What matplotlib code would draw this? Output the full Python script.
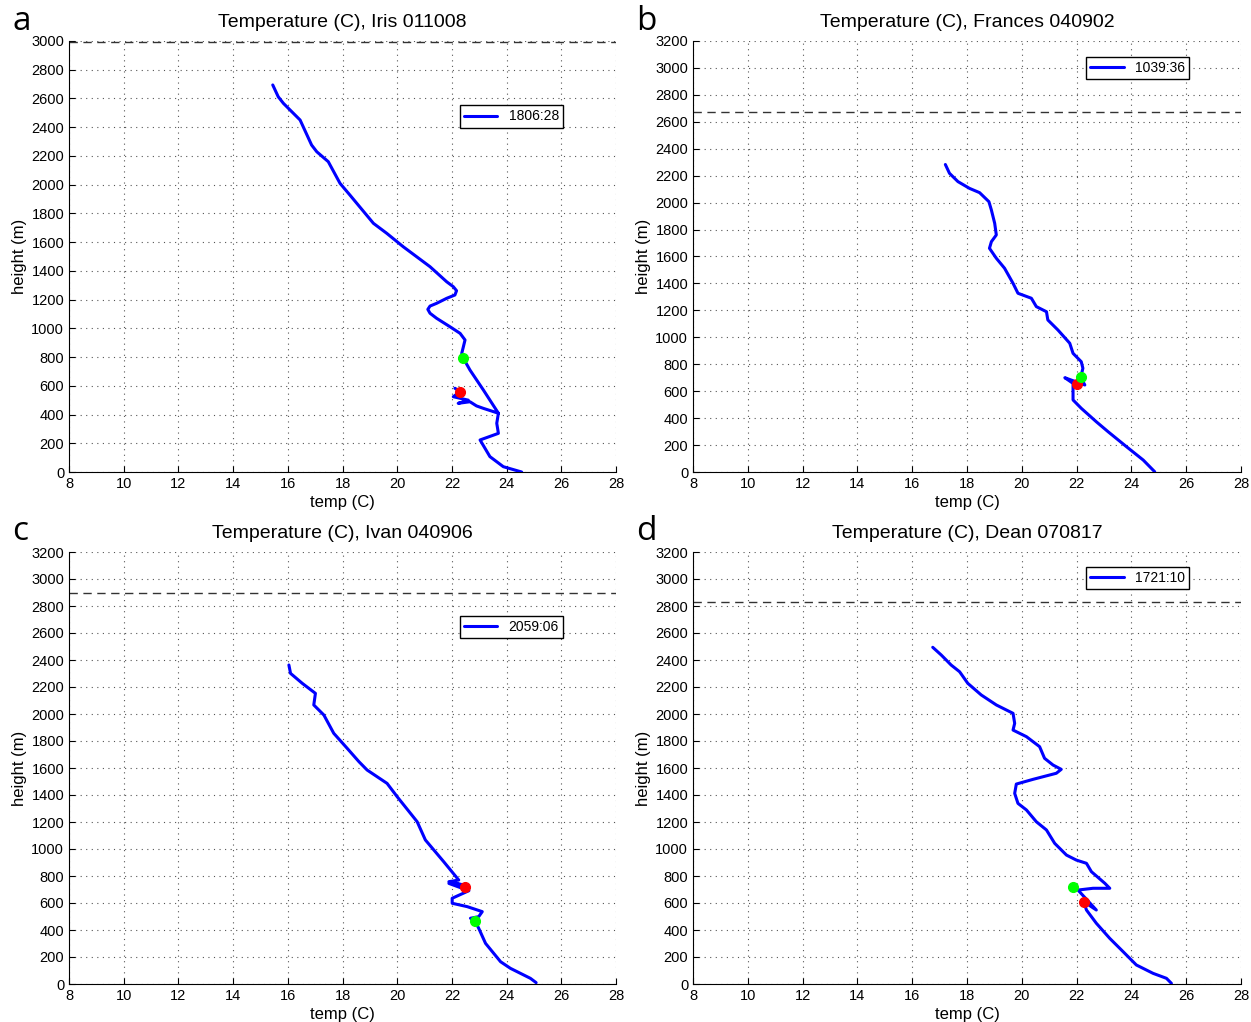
import numpy as np
import matplotlib
matplotlib.use("Agg")
import matplotlib.pyplot as plt

plt.rcParams["font.family"] = ["Liberation Sans", "DejaVu Sans"]

nan = np.nan

# panel a: Iris 011008
T_a = [24.55, 23.88, 23.39, 23.03, 23.70, 23.64, 23.70, 23.15, 22.90, 22.66, 22.23, 22.60,
       22.05, 22.30, 22.11, nan, 23.70, 23.15, 22.66, 22.42, 22.36, 22.42, 22.48, 22.30,
       21.93, 21.44, 21.20, 21.12, 21.20, 21.44, 21.81, 22.11, 22.17, 22.05, 21.81, 21.20,
       20.22, 19.62, 19.13, 18.27, 17.91, 17.48, 17.06, 16.87, 16.45, 15.84, 15.65, 15.45]
H_a = [0, 37, 107, 223, 269, 339, 409, 443, 460, 489, 478, 500,
       524, 559, 583, nan, 409, 571, 710, 791, 826, 872, 919, 965,
       1011, 1070, 1105, 1132, 1155, 1174, 1209, 1232, 1262, 1290, 1324, 1429,
       1568, 1661, 1731, 1928, 2009, 2160, 2229, 2276, 2450, 2566, 2612, 2694]
red_a = (22.30, 559)
green_a = (22.42, 791)

# panel b: Frances 040902
T_b = [24.85, 24.43, 23.82, 23.15, 22.72, 22.17, 21.87, 21.87, 21.57, 22.30, 22.15, 22.23,
       22.17, 21.87, 21.75, 21.32, 20.95, 20.90, 20.53, 20.35, 19.86, 19.68, 19.37, 19.07,
       18.82, 18.89, 19.07, 19.01, 18.89, 18.80, 18.46, 18.09, 17.67, 17.36, 17.21]
H_b = [2, 89, 188, 299, 373, 473, 535, 658, 700, 646, 703, 770,
       819, 881, 956, 1054, 1129, 1190, 1228, 1290, 1327, 1401, 1513, 1587,
       1661, 1710, 1760, 1847, 1945, 2007, 2074, 2106, 2156, 2218, 2283]
red_b = (22.03, 651)
green_b = (22.15, 703)

# panel c: Ivan 040906
T_c = [25.08, 24.87, 24.14, 23.78, 23.23, 22.98, 22.84, 22.68, 22.98, 23.11, 22.56, 22.01,
       22.01, 22.62, 21.89, 22.40, 21.89, 22.25, 21.70, 21.03, 20.73, 20.00, 19.63, 18.90,
       18.60, 18.17, 17.68, 17.32, 16.95, 17.01, 16.53, 16.10, 16.04]
H_c = [10, 42, 116, 165, 301, 413, 467, 487, 499, 536, 573, 598,
       635, 691, 745, 735, 758, 770, 906, 1067, 1202, 1387, 1486, 1585,
       1647, 1746, 1857, 1992, 2067, 2153, 2227, 2301, 2363]
red_c = (22.48, 716)
green_c = (22.84, 467)

# panel d: Dean 070817
T_d = [25.46, 25.28, 24.79, 24.18, 23.70, 23.21, 22.72, 22.36, 22.26, 22.72, 22.05, 22.60,
       23.21, 23.03, 22.54, 22.36, 21.99, 21.63, 21.20, 20.90, 20.53, 20.17, 19.86, 19.74,
       19.80, 20.41, 21.26, 21.44, 21.14, 20.83, 20.65, 20.17, 19.68, 19.74, 19.68, 19.07,
       18.52, 18.03, 17.73, 17.42, 17.06, 16.75]
H_d = [5, 42, 79, 141, 239, 338, 450, 548, 610, 548, 696, 709,
       709, 746, 832, 894, 918, 955, 1042, 1141, 1202, 1289, 1338, 1412,
       1481, 1516, 1561, 1590, 1622, 1672, 1758, 1832, 1881, 1931, 2005, 2067,
       2141, 2227, 2313, 2363, 2437, 2494]
red_d = (22.26, 610)
green_d = (21.88, 721)

letters = ["a", "b", "c", "d"]
titles = ["Temperature (C), Iris 011008", "Temperature (C), Frances 040902",
          "Temperature (C), Ivan 040906", "Temperature (C), Dean 070817"]
times = ["1806:28", "1039:36", "2059:06", "1721:10"]
tops = [2990, 2675, 2896, 2830]
ymaxes = [3000, 3200, 3200, 3200]
temps = [T_a, T_b, T_c, T_d]
heights = [H_a, H_b, H_c, H_d]
reds = [red_a, red_b, red_c, red_d]
greens = [green_a, green_b, green_c, green_d]

W, H = 1251, 1022
fig = plt.figure(figsize=(W / 100, H / 100), dpi=100)

# axes boxes in pixels: left, top, right, bottom
boxes = [(69, 41, 616, 472), (693, 41, 1241, 472),
         (69, 552, 616, 984), (693, 552, 1241, 984)]
leg_anchor = [(0.903, 0.851), (0.905, 0.963), (0.903, 0.852), (0.905, 0.965)]

for i in range(4):
    l, t, r, b = boxes[i]
    ax = fig.add_axes([l / W, 1 - b / H, (r - l) / W, (b - t) / H])
    ax.plot(temps[i], heights[i], color="#0000ff", lw=2.2, label=times[i],
            solid_capstyle="round", solid_joinstyle="round", zorder=3)
    ax.plot(*reds[i], "o", color="#ff0000", ms=7, zorder=4)
    ax.plot(*greens[i], "o", color="#00ff00", ms=7, zorder=4)
    ax.axhline(tops[i], color="#333333", lw=1, ls=(0, (6, 4)), zorder=2)

    ax.set_xlim(8, 28)
    ax.set_ylim(0, ymaxes[i])
    ax.set_xticks(np.arange(8, 29, 2))
    ax.set_yticks(np.arange(0, ymaxes[i] + 1, 200))
    ax.grid(True, color="#555555", ls=(0, (1, 4)), lw=0.8)
    ax.tick_params(direction="in", labelsize=10.5, length=4)
    ax.spines["top"].set_visible(False)
    ax.spines["right"].set_visible(False)
    ax.set_xlabel("temp (C)", fontsize=12, labelpad=3)
    ax.set_ylabel("height (m)", fontsize=12, labelpad=3)
    ax.set_title(titles[i], fontsize=14, pad=10)

    leg = ax.legend(loc="upper right", bbox_to_anchor=leg_anchor[i], fontsize=10,
                    fancybox=False, edgecolor="black", framealpha=1,
                    handlelength=2.4, borderaxespad=0, borderpad=0.3)
    leg.get_frame().set_linewidth(1)

    fig.text((l - 57) / W, 1 - (t - 20) / H, letters[i], fontsize=24,
             family=["Open Sans", "DejaVu Sans"], va="center", ha="left")

fig.savefig("out.png", dpi=100)
